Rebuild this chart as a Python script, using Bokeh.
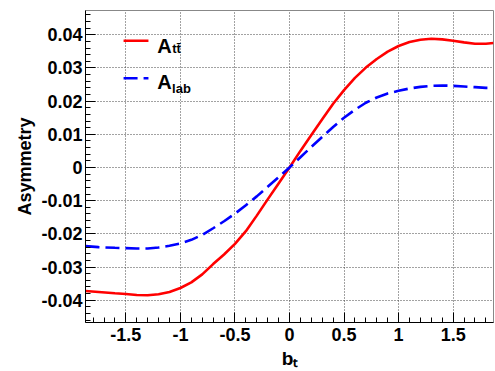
from bokeh.plotting import figure
from bokeh.models import FixedTicker, Label, Arrow
from bokeh.embed import file_html
from bokeh.resources import INLINE

# ---- data ----
bt = [-1.87, -1.75, -1.6, -1.5, -1.4, -1.3, -1.2, -1.1, -1.0, -0.9, -0.8, -0.7, -0.6,
      -0.5, -0.4, -0.3, -0.2, -0.1, 0.0, 0.1, 0.2, 0.3, 0.4, 0.5, 0.6, 0.7, 0.8, 0.9,
      1.0, 1.1, 1.2, 1.3, 1.4, 1.5, 1.6, 1.7, 1.8, 1.87]
a_tt = [-0.0372, -0.0375, -0.0379, -0.0381, -0.0384, -0.0385, -0.0382, -0.0375, -0.0363,
        -0.0346, -0.0322, -0.0291, -0.0262, -0.0230, -0.0192, -0.0145, -0.0096, -0.0048,
        0.0, 0.0050, 0.0098, 0.0145, 0.0192, 0.0233, 0.0270, 0.0301, 0.0327, 0.0349,
        0.0366, 0.0378, 0.0385, 0.0388, 0.0386, 0.0382, 0.0377, 0.0373, 0.0373, 0.0375]
a_lab = [-0.0237, -0.0240, -0.0242, -0.0243, -0.0244, -0.0244, -0.0241, -0.0236, -0.0229,
         -0.0218, -0.0203, -0.0183, -0.0162, -0.0139, -0.0114, -0.0087, -0.0058, -0.0029,
         0.0, 0.0031, 0.0062, 0.0092, 0.0122, 0.0150, 0.0174, 0.0195, 0.0211, 0.0223,
         0.0231, 0.0238, 0.0243, 0.0246, 0.0247, 0.0246, 0.0244, 0.0242, 0.0240, 0.0240]

x_ticks = [-1.5, -1.0, -0.5, 0.0, 0.5, 1.0, 1.5]
x_tick_labels = ["-1.5", "-1", "-0.5", "0", "0.5", "1", "1.5"]
x_minor = [round(-1.8 + 0.1 * i, 2) for i in range(37)]
y_ticks = [-0.04, -0.03, -0.02, -0.01, 0.0, 0.01, 0.02, 0.03, 0.04]
y_tick_labels = ["-0.04", "-0.03", "-0.02", "-0.01", "0", "0.01", "0.02", "0.03", "0.04"]
y_minor = [round(-0.046 + 0.002 * i, 3) for i in range(47)]

FONT = "Liberation Sans"

p = figure(width=495, height=371, x_range=(-1.87, 1.87), y_range=(-0.0467, 0.0473),
           output_backend="svg", toolbar_location=None,
           min_border_left=85, min_border_right=2, min_border_top=10, min_border_bottom=47)
p.background_fill_color = "white"
p.border_fill_color = "white"
p.outline_line_color = "#888888"
p.outline_line_width = 1

xt = FixedTicker(ticks=x_ticks, minor_ticks=x_minor)
yt = FixedTicker(ticks=y_ticks, minor_ticks=y_minor)
p.xaxis.ticker = xt
p.yaxis.ticker = yt
p.xgrid.ticker = xt
p.ygrid.ticker = yt
p.xaxis.major_label_overrides = dict(zip(x_ticks, x_tick_labels))
p.yaxis.major_label_overrides = dict(zip(y_ticks, y_tick_labels))

for ax in (p.xaxis[0], p.yaxis[0]):
    ax.axis_line_color = "black"
    ax.axis_line_width = 1
    ax.major_tick_in = 10
    ax.major_tick_out = 0
    ax.minor_tick_in = 5
    ax.minor_tick_out = 0
    ax.major_tick_line_color = "black"
    ax.minor_tick_line_color = "black"
    ax.major_label_text_font = FONT
    ax.major_label_text_font_style = "bold"
    ax.major_label_text_font_size = "18px"
    ax.major_label_text_color = "black"
    ax.axis_label_text_font = FONT
    ax.axis_label_text_font_style = "bold"
    ax.axis_label_text_font_size = "19px"
    ax.axis_label_text_color = "black"

p.yaxis.major_label_standoff = 3
p.xaxis.major_label_standoff = 5
p.yaxis.axis_label = "Asymmetry"
p.yaxis.axis_label_text_font_size = "18px"
p.yaxis.axis_label_standoff = 3
p.xaxis.axis_label = "b\u209c"
p.xaxis.axis_label_standoff = 4

p.grid.grid_line_color = "#444444"
p.grid.grid_line_dash = "1 2"
p.grid.grid_line_width = 1

p.line(bt, a_tt, line_color="#ff0000", line_width=2.6)
p.line(bt, a_lab, line_color="#0000ff", line_width=2.6, line_dash="14 6")

# legend (drawn by hand, with subscripts)
p.add_layout(Arrow(x_start=-1.521, y_start=0.0382, x_end=-1.293, y_end=0.0382, end=None,
                   line_color="#ff0000", line_width=2.6))
p.add_layout(Arrow(x_start=-1.521, y_start=0.0269, x_end=-1.293, y_end=0.0269, end=None,
                   line_color="#0000ff", line_width=2.6, line_dash="14 6"))

def lab(x, y, text, size):
    p.add_layout(Label(x=x, y=y, text=text, text_font=FONT, text_font_style="bold",
                       text_font_size=size, text_color="black",
                       text_baseline="alphabetic"))

lab(-1.213, 0.0366, "A", "20px")
lab(-1.075, 0.0358, "tt\u0304", "13px")
lab(-1.213, 0.0258, "A", "20px")
lab(-1.076, 0.0237, "lab", "13px")

open("out.html", "w").write(file_html(p, INLINE))
